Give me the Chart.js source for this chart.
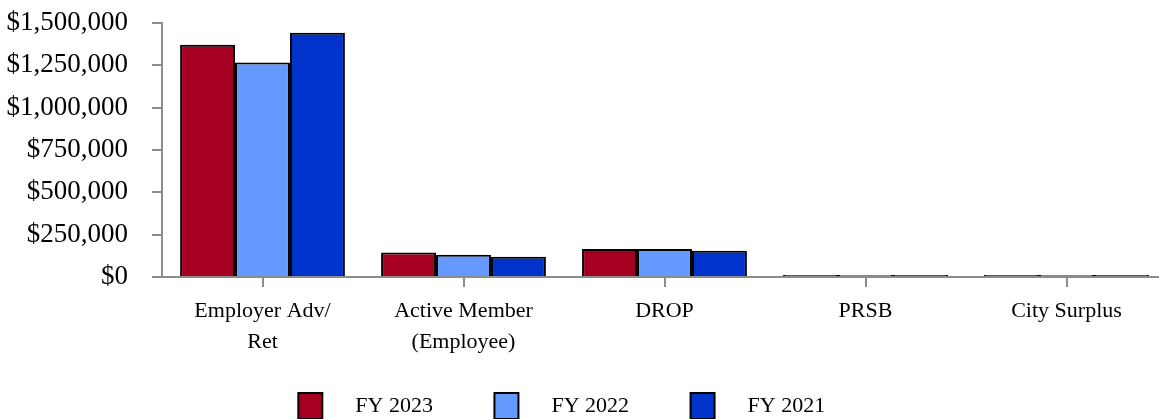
<!DOCTYPE html>
<html>
<head>
<meta charset="utf-8">
<script src="https://cdn.jsdelivr.net/npm/chart.js@4"></script>
<style>
  html, body { margin: 0; padding: 0; background: #fff; overflow: hidden; }
  #wrap { width: 1168px; height: 419px; position: relative; }
</style>
</head>
<body>
<div id="wrap"><canvas id="revenueChart"></canvas></div>
<script>
let categories = [['Employer Adv/', 'Ret'], ['Active Member', '(Employee)'], 'DROP', 'PRSB', 'City Surplus'];
let seriesNames = ['FY 2023', 'FY 2022', 'FY 2021'];
let fy2023 = [1372000, 144000, 165500, 12000, 12000];
let fy2022 = [1267000, 132000, 166000, 12000, 12000];
let fy2021 = [1443000, 120000, 155500, 12000, 12000];
let yTicks = [0, 250000, 500000, 750000, 1000000, 1250000, 1500000];

let colors = ['#A50021', '#6699FF', '#0033CC'];
let axisColor = '#8c8c8c';
let serif = '"Liberation Serif", "Times New Roman", serif';
let legendPad = 12;
let legendBox = 26;

// keep the legend a fixed strip at the very bottom
let legendFix = {
    id: 'legendFix',
    beforeLayout: function(chart) {
        let lg = chart.legend;
        if (lg && !lg._pinned) {
            let origFit = lg.fit.bind(lg);
            lg.fit = function() {
                origFit();
                this.height = legendPad + legendBox;
            };
            lg._pinned = true;
        }
    },
    afterLayout: function(chart) {
        if (chart.legend) chart.legend.right += 6;
    }
};

document.addEventListener("DOMContentLoaded", function() {
    let ctx = document.getElementById("revenueChart").getContext('2d');
    let allSeries = [fy2023, fy2022, fy2021];
    let chart = new Chart(ctx, {
        type: 'bar',
        data: {
            labels: categories,
            datasets: allSeries.map(function(values, i) {
                return {
                    label: seriesNames[i],
                    data: values,
                    backgroundColor: colors[i],
                    borderColor: '#000',
                    borderWidth: 2,
                    borderSkipped: 'bottom',
                    categoryPercentage: 0.82,
                    barPercentage: 1.0
                };
            })
        },
        plugins: [legendFix],
        options: {
            responsive: true,
            maintainAspectRatio: false,
            animation: false,
            layout: { padding: { top: 23, right: 1, left: 0, bottom: 0 } },
            plugins: {
                tooltip: { enabled: false },
                legend: {
                    position: 'bottom',
                    labels: {
                        color: '#000',
                        font: { family: serif, size: 22 },
                        boxWidth: 24,
                        boxHeight: legendBox,
                        padding: legendPad,
                        generateLabels: function(c) {
                            return c.data.datasets.map(function(ds, i) {
                                return {
                                    text: '    ' + ds.label + '         ',
                                    fillStyle: ds.backgroundColor,
                                    strokeStyle: '#000',
                                    lineWidth: 2,
                                    datasetIndex: i
                                };
                            });
                        }
                    }
                }
            },
            scales: {
                x: {
                    offset: true,
                    grid: {
                        offset: false,
                        drawOnChartArea: false,
                        drawTicks: true,
                        tickLength: 10,
                        color: axisColor,
                        lineWidth: 2
                    },
                    border: { color: axisColor, width: 2 },
                    ticks: {
                        color: '#000',
                        padding: 9,
                        maxRotation: 0,
                        autoSkip: false,
                        font: { family: serif, size: 22, lineHeight: 1.4 }
                    },
                    afterFit: function(scale) {
                        let legendH = scale.chart.legend ? scale.chart.legend.height : 0;
                        scale.height = 419 - 277 - legendH;
                    }
                },
                y: {
                    min: 0,
                    max: 1500000,
                    afterBuildTicks: function(scale) {
                        scale.ticks = yTicks.map(function(v) { return { value: v }; });
                    },
                    grid: {
                        drawOnChartArea: false,
                        drawTicks: true,
                        tickLength: 10,
                        color: axisColor,
                        lineWidth: 2
                    },
                    border: { color: axisColor, width: 2 },
                    ticks: {
                        color: '#000',
                        padding: 24,
                        font: { family: serif, size: 27 },
                        callback: function(v) { return '$' + v.toLocaleString('en-US'); }
                    },
                    afterFit: function(scale) {
                        scale.width = 162;
                        scale.paddingTop = 0;
                        scale.paddingBottom = 0;
                    }
                }
            }
        }
    });
});
</script>
</body>
</html>
